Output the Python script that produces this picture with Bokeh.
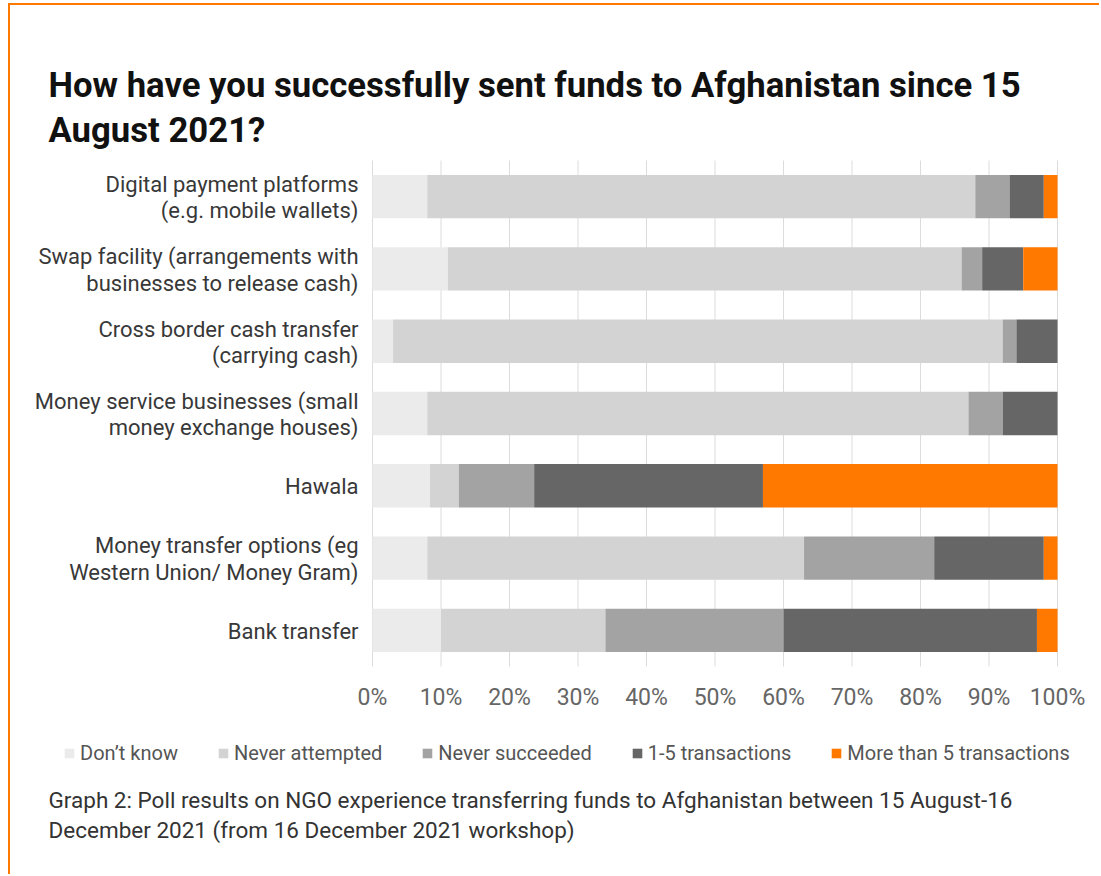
from bokeh.plotting import figure
from bokeh.models import Range1d, Label, Legend, LegendItem
from bokeh.core.properties import value
from bokeh.embed import file_html
from bokeh.resources import INLINE

categories = [
    "Digital payment platforms\n(e.g. mobile wallets)",
    "Swap facility (arrangements with\nbusinesses to release cash)",
    "Cross border cash transfer\n(carrying cash)",
    "Money service businesses (small\nmoney exchange houses)",
    "Hawala",
    "Money transfer options (eg\nWestern Union/ Money Gram)",
    "Bank transfer",
]
dont_know = [8, 11, 3, 8, 8.4, 8, 10]
never_attempted = [80, 75, 89, 79, 4.2, 55, 24]
never_succeeded = [5, 3, 2, 5, 11, 19, 26]
tx_1_5 = [5, 6, 6, 8, 33.4, 16, 37]
more_5 = [2, 5, 0, 0, 43, 2, 3]
series_names = ["Don’t know", "Never attempted", "Never succeeded", "1-5 transactions", "More than 5 transactions"]
colors = ["#ebebeb", "#d3d3d3", "#a3a3a3", "#666666", "#ff7900"]
x_ticks = list(range(0, 101, 10))
x_tick_labels = [f"{t}%" for t in x_ticks]

title_lines = ["How have you successfully sent funds to Afghanistan since 15", "August 2021?"]
caption_lines = [
    "Graph 2: Poll results on NGO experience transferring funds to Afghanistan between 15 August-16",
    "December 2021 (from 16 December 2021 workshop)",
]

# ---- layout (pixels inside the canvas)
W, H = 1091, 871
PLOT_L, PLOT_R, PLOT_T, PLOT_B = 362, 1047, 155, 661
n = len(categories)
px_x = (PLOT_R - PLOT_L) / 100.0
band = (PLOT_B - PLOT_T) / n

y_pos = list(range(n, 0, -1))  # first category on top
keys = ["dk", "na", "ns", "t15", "m5"]
data = dict(y=y_pos, cat=categories, dk=dont_know, na=never_attempted, ns=never_succeeded,
            t15=tx_1_5, m5=more_5)

p = figure(width=W, height=H, title=None,
           x_range=Range1d(-PLOT_L / px_x, 100 + (W - PLOT_R) / px_x),
           y_range=Range1d(0.5 - (H - PLOT_B) / band, n + 0.5 + PLOT_T / band),
           x_axis_location=None, y_axis_location=None,
           output_backend="svg", toolbar_location=None, min_border=0)
p.outline_line_color = None
p.grid.visible = False
p.styles = {"margin-left": "8px", "margin-top": "3px",
            "border-left": "2px solid #ff7900", "border-top": "2px solid #ff7900"}

# vertical grid lines
p.segment(x0=x_ticks, x1=x_ticks, y0=[0.5] * len(x_ticks), y1=[n + 0.5] * len(x_ticks),
          line_color="#dcdcdc", line_width=1)

renderers = p.hbar_stack(keys, y="y", height=0.6, color=colors, source=data, line_color=None)

# x tick labels
p.text(x=x_ticks, y=[0.5] * len(x_ticks), text=x_tick_labels, y_offset=31,
       text_align="center", text_baseline="middle", text_font=value("Roboto"),
       text_font_size="23px", text_color="#666666")

# category labels
p.text(x=[0] * n, y=y_pos, text=categories, x_offset=-14, y_offset=1,
       text_align="right", text_baseline="middle", text_font=value("Roboto"),
       text_font_size="22px", text_color="#383838", text_line_height=1.05)

legend = Legend(items=[LegendItem(label=nm, renderers=[r]) for nm, r in zip(series_names, renderers)],
                location=(53, 111), orientation="horizontal",
                glyph_width=12, glyph_height=12, label_standoff=5, spacing=39,
                padding=0, margin=0, border_line_color=None, background_fill_alpha=0,
                label_text_font="Roboto", label_text_font_size="20px", label_text_color="#555555")
p.add_layout(legend, "center")

for i, t in enumerate(title_lines):
    p.add_layout(Label(x=38, y=H - (79 + 45 * i), x_units="screen", y_units="screen", text=t,
                       text_font="Roboto", text_font_style="bold", text_font_size="34.7px",
                       text_color="#111111", text_baseline="alphabetic"))
for i, t in enumerate(caption_lines):
    p.add_layout(Label(x=38, y=H - (794 + 30 * i), x_units="screen", y_units="screen", text=t,
                       text_font="Roboto", text_font_size="22.5px",
                       text_color="#333333", text_baseline="alphabetic"))

open("out.html", "w").write(file_html(p, INLINE))
